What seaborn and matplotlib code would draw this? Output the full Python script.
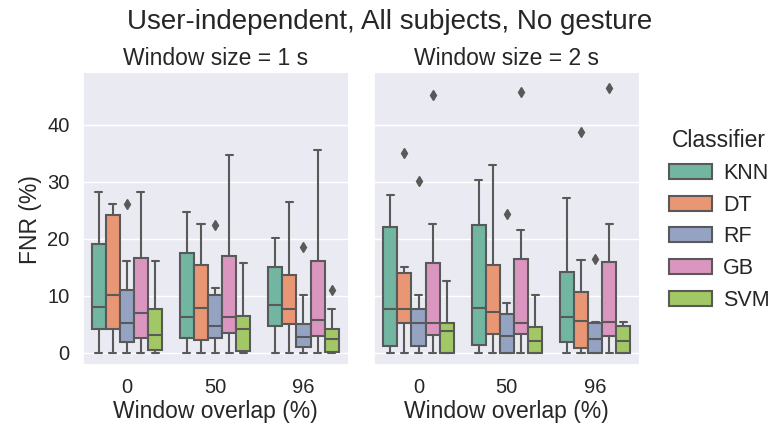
import numpy as np
import pandas as pd
import matplotlib
matplotlib.use("Agg")
import matplotlib.pyplot as plt
import seaborn as sns

# Categories
classifiers = ["KNN", "DT", "RF", "GB", "SVM"]
overlaps = [0, 50, 96]
window_sizes = [1, 2]

# Box summaries per overlap (0, 50, 96): (whisker low, Q1, median, Q3, whisker high)
knn_1s = [(0, 4.1, 8.0, 19.1, 28.1), (0, 2.6, 6.3, 17.5, 24.7), (0, 4.7, 8.4, 15.1, 20.1)]
dt_1s = [(0, 4.1, 10.1, 24.1, 26.1), (0, 2.2, 7.9, 15.3, 22.5), (0, 5.0, 7.6, 13.6, 26.5)]
rf_1s = [(0, 1.9, 5.1, 11.0, 16.1), (0, 2.6, 4.6, 10.1, 11.3), (0, 1.05, 2.8, 5.0, 10.1)]
gb_1s = [(0, 2.6, 7.0, 16.6, 28.1), (0, 3.5, 6.3, 17.0, 34.7), (0, 2.9, 5.7, 16.1, 35.5)]
svm_1s = [(0, 0.4, 3.1, 7.6, 16.1), (0, 0.2, 4.1, 6.5, 15.8), (0, 0.1, 2.3, 4.2, 7.6)]

knn_2s = [(0, 1.2, 7.6, 22.0, 27.6), (0, 1.35, 7.9, 22.3, 30.2), (0, 1.9, 6.3, 14.2, 27.1)]
dt_2s = [(0, 5.1, 7.6, 13.9, 15.1), (0, 3.3, 7.1, 15.3, 33.0), (0, 0.8, 5.6, 10.7, 16.3)]
rf_2s = [(0, 1.2, 5.1, 7.6, 10.1), (0, 0.0, 2.9, 6.7, 8.7), (0, 0.0, 2.3, 5.1, 5.4)]
gb_2s = [(0, 3.1, 5.1, 15.8, 22.6), (0, 3.3, 5.1, 16.4, 21.5), (0, 2.9, 5.4, 15.9, 22.6)]
svm_2s = [(0, 0.0, 3.8, 5.1, 12.5), (0, 0.0, 2.1, 4.4, 10.1), (0, 0.0, 2.1, 4.7, 5.4)]

# Outlying subjects per overlap (None = no outlier)
rf_1s_out = [26.1, 22.3, 18.6]
svm_1s_out = [None, None, 11.0]
dt_2s_out = [35.1, None, 38.7]
rf_2s_out = [30.1, 24.4, 16.5]
gb_2s_out = [45.2, 45.7, 46.5]

summaries = {
    1: {"KNN": knn_1s, "DT": dt_1s, "RF": rf_1s, "GB": gb_1s, "SVM": svm_1s},
    2: {"KNN": knn_2s, "DT": dt_2s, "RF": rf_2s, "GB": gb_2s, "SVM": svm_2s},
}
outliers = {
    1: {"RF": rf_1s_out, "SVM": svm_1s_out},
    2: {"DT": dt_2s_out, "RF": rf_2s_out, "GB": gb_2s_out},
}


def subject_values(stats, out):
    """13 subject values whose quartiles and whiskers reproduce the summary."""
    lo, q1, med, q3, hi = stats
    tail = [hi, out] if out is not None else [hi, hi]
    return [lo, q1, q1, q1, med, med, med, q3, q3, q3, hi] + tail


rows = []
for ws in window_sizes:
    for clf in classifiers:
        outs = outliers[ws].get(clf, [None] * len(overlaps))
        for i, ov in enumerate(overlaps):
            for v in subject_values(summaries[ws][clf][i], outs[i]):
                rows.append({"Window size": ws, "Window overlap (%)": ov,
                             "Classifier": clf, "FNR (%)": v})
df = pd.DataFrame(rows)

sns.set_theme(style="darkgrid")
plt.rcParams["font.family"] = ["Liberation Sans", "DejaVu Sans"]
plt.rcParams["xtick.labelsize"] = 14.5
plt.rcParams["ytick.labelsize"] = 14.5
plt.rcParams["axes.labelsize"] = 16.5
plt.rcParams["axes.titlesize"] = 17
plt.rcParams["legend.fontsize"] = 15.5
plt.rcParams["legend.title_fontsize"] = 16.5

gray = "#595959"
g = sns.catplot(
    data=df, kind="box", x="Window overlap (%)", y="FNR (%)",
    hue="Classifier", hue_order=classifiers, col="Window size",
    palette="Set2", linewidth=1.5, linecolor=gray, fliersize=5,
    flierprops=dict(marker="d", markerfacecolor=gray, markeredgecolor=gray),
    height=4, aspect=0.8,
)
g.set_titles("Window size = {col_name} s")
g.set(ylim=(-2.2, 49.0), yticks=[0, 10, 20, 30, 40])
for ax in g.axes.flat:
    ax.set_xlabel("Window overlap (%)", labelpad=2)
g.axes.flat[0].set_ylabel("FNR (%)")

fig = g.figure
fig.set_size_inches(7.8, 4.29)
fig.subplots_adjust(left=0.106, right=0.8196, bottom=0.149, top=0.829, wspace=0.101)
fig.suptitle("User-independent, All subjects, No gesture", fontsize=20, y=0.978)

g._legend.remove()
g.axes.flat[-1].legend(
    *g.axes.flat[-1].get_legend_handles_labels(),
    title="Classifier", loc="center left", frameon=False,
    bbox_to_anchor=(0.833, 0.487), bbox_transform=fig.transFigure,
    labelspacing=0.5, handlelength=2.0, handletextpad=0.5,
)

fig.savefig("out.png", dpi=100)
